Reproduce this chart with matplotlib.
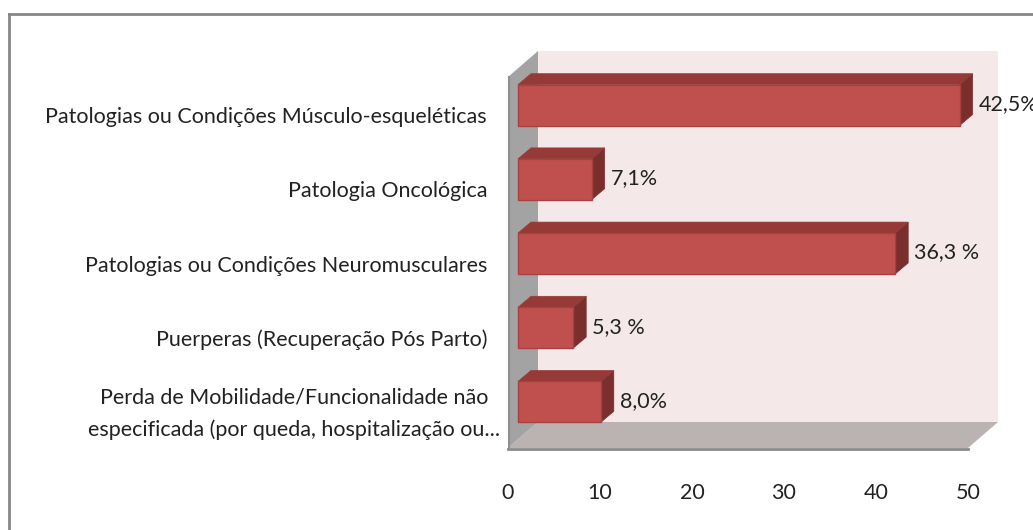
import matplotlib
matplotlib.use("Agg")
import matplotlib.pyplot as plt
import matplotlib.transforms as mtransforms
from matplotlib.patches import Polygon
from matplotlib.lines import Line2D
import numpy as np

plt.rcParams['font.family'] = ['Lato', 'DejaVu Sans']

# ---- data ----
categories = [
    "Patologias ou Condições Músculo-esqueléticas",
    "Patologia Oncológica",
    "Patologias ou Condições Neuromusculares",
    "Puerperas (Recuperação Pós Parto)",
    "Perda de Mobilidade/Funcionalidade não\nespecificada (por queda, hospitalização ou...",
]
counts = [48, 8, 41, 6, 9]
value_labels = ["42,5%", "7,1%", "36,3 %", "5,3 %", "8,0%"]
xticks = [0, 10, 20, 30, 40, 50]

W, H = 1033, 530
fig = plt.figure(figsize=(W / 100, H / 100), dpi=100)
fig.patch.set_facecolor("white")

ax = fig.add_axes([508 / W, 1 - 448 / H, 460 / W, 371 / H])
ax.set_xlim(0, 50)
ax.set_ylim(len(categories), 0)
ax.set_facecolor("none")
for s in ax.spines.values():
    s.set_visible(False)
ax.set_yticks([])
ax.set_xticks(xticks)
ax.set_xticklabels([str(t) for t in xticks])
ax.tick_params(axis="x", length=0, pad=25, labelsize=15.5, labelcolor="#222222")

fig.canvas.draw()

DEPTH = np.array([30.0, 26.0])     # box depth in pixels
BAR_FRONT = np.array([10.0, 9.0])  # bar front plane offset
BAR_BACK = np.array([23.0, 20.0])  # bar back plane offset
ident = mtransforms.IdentityTransform()


def P(x, y, off):
    return ax.transData.transform((x, y)) + off


def poly(pts, **kw):
    p = Polygon(pts, closed=True, transform=ident, clip_on=False, **kw)
    ax.add_artist(p)
    return p


n = len(categories)
zero = np.array([0.0, 0.0])
# back wall
poly([P(0, 0, DEPTH), P(50, 0, DEPTH), P(50, n, DEPTH), P(0, n, DEPTH)],
     facecolor="#F4E8E8", edgecolor="none", zorder=1)
# floor
poly([P(0, n, zero), P(50, n, zero), P(50, n, DEPTH), P(0, n, DEPTH)],
     facecolor="#BBB2B2", edgecolor="none", zorder=1.2)
# left wall
poly([P(0, 0, zero), P(0, 0, DEPTH), P(0, n, DEPTH), P(0, n, zero)],
     facecolor="#A3A3A3", edgecolor="none", zorder=1.3)
# edges
fl = np.array([P(0, n, zero), P(50, n, zero)])
ax.add_artist(Line2D(fl[:, 0], fl[:, 1] - 1, transform=ident, color="#8A8A8A",
                     lw=2, clip_on=False, zorder=1.4))
lw_ = np.array([P(0, 0, zero), P(0, n, zero)])
ax.add_artist(Line2D(lw_[:, 0] + 0.5, lw_[:, 1], transform=ident, color="#8F8F8F",
                     lw=1.5, clip_on=False, zorder=1.4))

half = 0.275
for i, (v, lab) in enumerate(zip(counts, value_labels)):
    c = i + 0.5
    top, bot = c - half, c + half
    # right side
    poly([P(v, top, BAR_FRONT), P(v, bot, BAR_FRONT), P(v, bot, BAR_BACK), P(v, top, BAR_BACK)],
         facecolor="#7B2F2D", edgecolor="#7B2F2D", lw=0.5, zorder=3)
    # top face
    poly([P(0, top, BAR_FRONT), P(v, top, BAR_FRONT), P(v, top, BAR_BACK), P(0, top, BAR_BACK)],
         facecolor="#953A37", edgecolor="#953A37", lw=0.5, zorder=3)
    # front face
    poly([P(0, top, BAR_FRONT), P(v, top, BAR_FRONT), P(v, bot, BAR_FRONT), P(0, bot, BAR_FRONT)],
         facecolor="#C0504D", edgecolor="#A8413E", lw=1, zorder=3.5)
    # value label
    tr = mtransforms.offset_copy(ax.transData, fig=fig, x=BAR_BACK[0] + 6,
                                 y=BAR_FRONT[1] + 1, units="dots")
    ax.text(v, c, lab, transform=tr, ha="left", va="center", fontsize=15.5,
            color="#222222", zorder=5, clip_on=False)

# category labels
for i, cat in enumerate(categories):
    dx = -21 if "\n" not in cat else -8
    tr = mtransforms.offset_copy(ax.transData, fig=fig, x=dx, y=-3, units="dots")
    ax.text(0, i + 0.5, cat, transform=tr, ha="right", va="center",
            multialignment="center", fontsize=15.5, color="#222222",
            linespacing=1.68, clip_on=False, zorder=5)

# outer border (top and left)
fig.add_artist(Line2D([9 / W, 1.0], [1 - 14 / H, 1 - 14 / H], transform=fig.transFigure,
                      color="#878787", lw=2))
fig.add_artist(Line2D([9 / W, 9 / W], [1 - 14 / H, 0.0], transform=fig.transFigure,
                      color="#878787", lw=2))

fig.savefig("out.png", dpi=100, facecolor="white")
